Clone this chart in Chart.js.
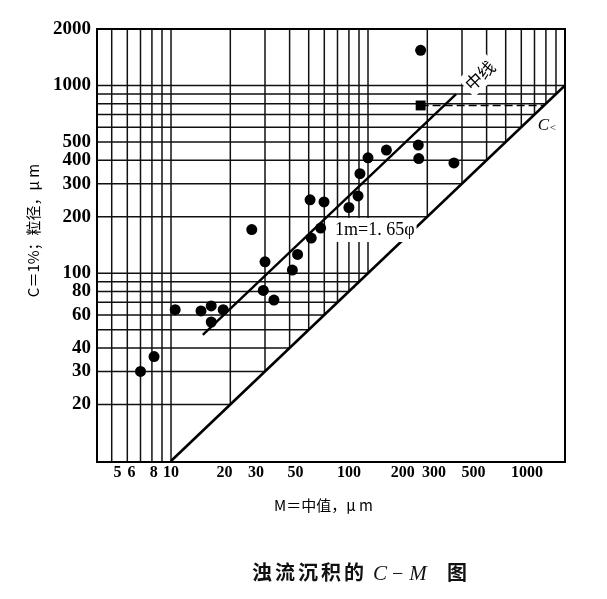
<!DOCTYPE html>
<html>
<head>
<meta charset="utf-8">
<script src="https://cdn.jsdelivr.net/npm/chart.js@4.4.1/dist/chart.umd.min.js"></script>
<style>
  body { margin: 0; background: #fff; }
  #wrap { position: relative; width: 607px; height: 599px; }
  .cap { position: absolute; top: 557px; line-height: 24px; font: bold 20px "Noto Sans CJK SC"; color: #111; letter-spacing: 3px; white-space: nowrap; }
  .cap i { font-family: "Liberation Serif"; font-size: 21px; font-weight: normal; letter-spacing: 0; }
  .cap .op { font-family: "Liberation Serif"; font-weight: normal; margin: 0 6px 0 5px; letter-spacing: 0; }
</style>
</head>
<body>
<div id="wrap">
  <canvas id="cm" width="607" height="599"></canvas>
  <div class="cap" style="left:252px">浊流沉积的</div>
  <div class="cap" style="left:373px"><i>C</i><span class="op">−</span><i>M</i></div>
  <div class="cap" style="left:447px">图</div>
</div>
<script>
// samples: M = median, C = 1% grain size (both μm)
const sampleM = [7, 8.2, 10.5, 14.2, 16, 16, 18.4, 25.7, 30, 29.4, 33.3, 41.3, 43.9, 50.8, 51.5, 57.5, 59.8, 80, 89, 91, 100, 124, 185, 180, 181, 273];
const sampleC = [30, 36, 64, 63, 67, 55, 64, 171, 115, 81, 72, 104, 126, 246, 154, 174, 240, 224, 258, 339, 412, 453, 1540, 482, 408, 387];
const squareM = [185];
const squareC = [783];

// reference lines
const cmLineM = [10, 1000];
const cmLineC = [10, 1000];
const midLineM = [14.5, 280];
const midLineC = [47, 900];
const dashM = [185, 780];
const dashC = [783, 783];

// ticks and grid
const xTicks = [5, 6, 8, 10, 20, 30, 50, 100, 200, 300, 500, 1000];
const yTicks = [20, 30, 40, 60, 80, 100, 200, 300, 400, 500, 1000, 2000];
const gridM = [5, 6, 7, 8, 9, 10, 20, 30, 40, 50, 60, 70, 80, 90, 100, 200, 300, 400, 500, 600, 700, 800, 900];
const gridC = [20, 30, 40, 50, 60, 70, 80, 90, 100, 200, 300, 400, 500, 600, 700, 800, 900, 1000];

const pts = (xs, ys) => xs.map((v, i) => ({ x: v, y: ys[i] }));
const serif = "'Liberation Serif', serif";
const cjk = "'Noto Sans CJK SC', sans-serif";

// writes a label with a white patch behind it
function tag(ctx, text, px, py, angle, font, align) {
    ctx.save();
    ctx.translate(px, py);
    ctx.rotate(angle);
    ctx.font = font;
    ctx.textAlign = align;
    ctx.textBaseline = 'middle';
    const w = ctx.measureText(text).width;
    const x0 = align === 'left' ? 0 : -w / 2;
    ctx.fillStyle = '#fff';
    ctx.fillRect(x0 - 2, -12, w + 4, 24);
    ctx.fillStyle = '#000';
    ctx.fillText(text, 0, 0);
    ctx.restore();
}

const cmGrid = {
    id: 'cmGrid',
    beforeDatasetsDraw(chart) {
        const { ctx, chartArea: a, scales: { x, y } } = chart;
        ctx.save();
        // grid only above the C = M line
        ctx.beginPath();
        ctx.moveTo(a.left, a.top);
        ctx.lineTo(a.right, a.top);
        ctx.lineTo(x.getPixelForValue(1000), y.getPixelForValue(1000));
        ctx.lineTo(x.getPixelForValue(10), y.getPixelForValue(10));
        ctx.lineTo(x.getPixelForValue(10), a.bottom);
        ctx.lineTo(a.left, a.bottom);
        ctx.closePath();
        ctx.clip();
        ctx.strokeStyle = '#111';
        ctx.lineWidth = 1.5;
        ctx.beginPath();
        gridM.forEach(v => {
            const px = x.getPixelForValue(v);
            ctx.moveTo(px, a.top);
            ctx.lineTo(px, a.bottom);
        });
        gridC.forEach(v => {
            const py = y.getPixelForValue(v);
            ctx.moveTo(a.left, py);
            ctx.lineTo(a.right, py);
        });
        ctx.stroke();
        ctx.restore();

        ctx.save();
        ctx.strokeStyle = '#000';
        ctx.lineWidth = 2;
        ctx.strokeRect(a.left, a.top, a.width, a.height);
        ctx.restore();
    },
    afterDatasetsDraw(chart) {
        const { ctx, scales: { x, y } } = chart;
        tag(ctx, '1m=1. 65φ', x.getPixelForValue(68), y.getPixelForValue(170), 0, '18px ' + serif, 'left');
        tag(ctx, '中线', x.getPixelForValue(370), y.getPixelForValue(1132), -0.75, '17px ' + cjk, 'center');
        ctx.save();
        ctx.fillStyle = '#000';
        ctx.textBaseline = 'middle';
        ctx.font = 'italic 17px ' + serif;
        const cx = x.getPixelForValue(780), cy = y.getPixelForValue(614);
        ctx.fillText('C', cx - 6, cy);
        ctx.font = '11px ' + serif;
        ctx.fillText('<', cx + 6, cy + 3);
        ctx.restore();
    }
};

new Chart(document.getElementById('cm'), {
    type: 'scatter',
    data: {
        datasets: [{
            label: 'C=M',
            data: pts(cmLineM, cmLineC),
            xAxisID: 'x',
            showLine: true,
            borderColor: '#000',
            borderWidth: 2.6,
            pointRadius: 0
        }, {
            label: '中线',
            data: pts(midLineM, midLineC),
            xAxisID: 'x',
            showLine: true,
            borderColor: '#000',
            borderWidth: 2.4,
            pointRadius: 0
        }, {
            label: 'dash',
            data: pts(dashM, dashC),
            xAxisID: 'x',
            showLine: true,
            borderColor: '#000',
            borderWidth: 1.4,
            borderDash: [8, 4],
            pointRadius: 0
        }, {
            label: 'samples',
            data: pts(sampleM, sampleC),
            xAxisID: 'x',
            backgroundColor: '#000',
            borderWidth: 0,
            pointRadius: 5.5
        }, {
            label: 'square',
            data: pts(squareM, squareC),
            xAxisID: 'x',
            backgroundColor: '#000',
            borderWidth: 0,
            pointStyle: 'rect',
            pointRadius: 7
        }]
    },
    options: {
        responsive: false,
        animation: false,
        layout: { padding: { left: 0, top: 29, right: 42, bottom: 80 } },
        plugins: {
            legend: { display: false },
            tooltip: { enabled: false }
        },
        scales: {
            x: {
                type: 'logarithmic',
                display: false,
                min: 4.21,
                max: 1000
            },
            xl: {
                type: 'logarithmic',
                position: 'bottom',
                min: 3.84,
                max: 1633,
                grid: { display: false, drawTicks: false },
                border: { display: false },
                afterBuildTicks: s => { s.ticks = xTicks.map(v => ({ value: v })); },
                afterFit: s => { s.height = 57; },
                ticks: {
                    autoSkip: false,
                    maxRotation: 0,
                    padding: 1,
                    color: '#000',
                    font: { family: serif, size: 16, weight: 'bold' },
                    callback: v => String(v)
                },
                title: {
                    display: true,
                    text: 'M＝中值，μ m　',
                    color: '#000',
                    font: { family: cjk, size: 15 },
                    padding: { top: 0, bottom: 5 }
                }
            },
            y: {
                type: 'logarithmic',
                min: 9.88,
                max: 2000,
                grid: { display: false, drawTicks: false },
                border: { display: false },
                afterBuildTicks: s => { s.ticks = yTicks.map(v => ({ value: v })); },
                afterFit: s => { s.width = 97; },
                ticks: {
                    autoSkip: false,
                    padding: 6,
                    color: '#000',
                    font: { family: serif, size: 19, weight: 'bold' },
                    callback: v => String(v)
                },
                title: {
                    display: true,
                    text: '　　C＝1%；粒径，μ m',
                    color: '#000',
                    font: { family: cjk, size: 15 },
                    padding: { top: 24, bottom: 0 }
                }
            }
        }
    },
    plugins: [cmGrid]
});
</script>
</body>
</html>
